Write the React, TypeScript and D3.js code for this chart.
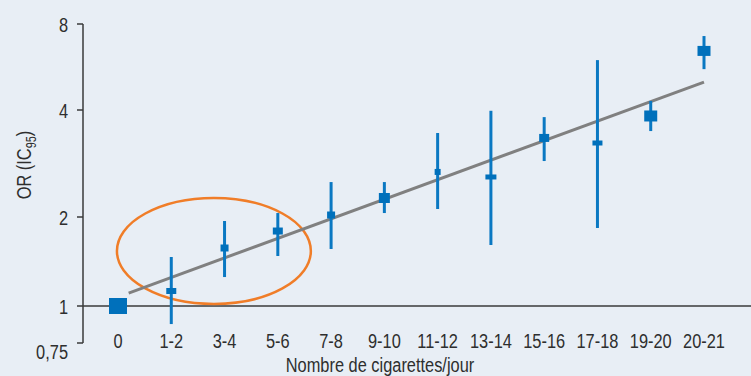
import React, { useEffect, useRef } from 'react';
import * as d3 from 'd3';

// categories (cigarettes per day)
const categories = ['0', '1-2', '3-4', '5-6', '7-8', '9-10', '11-12', '13-14', '15-16', '17-18', '19-20', '20-21'];
// odds ratio and 95% CI
const orValues = [1, 1.124, 1.571, 1.793, 2.026, 2.262, 2.678, 2.592, 3.338, 3.23, 3.848, 6.44];
const ciLow = [null, 0.869, 1.253, 1.476, 1.559, 2.052, 2.106, 1.608, 2.874, 1.836, 3.49, 5.56];
const ciHigh = [null, 1.465, 1.939, 2.052, 2.508, 2.508, 3.446, 3.98, 3.82, 5.98, 4.3, 7.26];
// marker box sizes (px) reflect group weight
const markerW = [18, 10, 8, 10, 8, 11, 6, 11, 10, 10, 13, 13];
const markerH = [16, 6, 7, 7, 7, 10, 6, 5, 8, 5, 11, 10];
// trend line, x in category index units
const trendX = [0.2, 11];
const trendY = [1.106, 5.01];
// y ticks
const yTicks = [0.75, 1, 2, 4, 8];
const yTickLabels = ['0,75', '1', '2', '4', '8'];

const W = 751;
const H = 376;
const FONT = '"Liberation Sans", Arial, sans-serif';
const SQUEEZE = 0.78; // condensed look

const App = () => {
    const svgRef = useRef<SVGSVGElement>(null);

    useEffect(() => {
        const svg = d3.select(svgRef.current);
        svg.selectAll('*').remove();

        svg.append('rect').attr('width', W).attr('height', H).attr('fill', '#e8eef5');

        const addText = (x: number, y: number, str: string, anchor: string, rotate = 0) => {
            return svg.append('text')
                .attr('transform', `translate(${x},${y}) rotate(${rotate}) scale(${SQUEEZE},1)`)
                .attr('text-anchor', anchor)
                .attr('font-family', FONT)
                .attr('font-size', 21)
                .attr('fill', '#2e2e2e')
                .text(str);
        };

        // the original axis is not evenly spaced, so piecewise log
        const y = d3.scaleLog().domain([0.75, 1, 2, 4, 8]).range([343, 306, 217, 110, 24]);
        const x = d3.scalePoint().domain(categories).range([118, 704]);
        const xi = d3.scaleLinear().domain([0, categories.length - 1]).range([118, 704]);
        const axisX = 83;

        // y axis
        svg.append('line')
            .attr('x1', axisX).attr('x2', axisX)
            .attr('y1', y(8)).attr('y2', y(0.75))
            .attr('stroke', '#3a3a3a').attr('stroke-width', 1.5);

        yTicks.forEach((t, i) => {
            svg.append('line')
                .attr('x1', axisX - 6).attr('x2', axisX)
                .attr('y1', y(t)).attr('y2', y(t))
                .attr('stroke', '#3a3a3a').attr('stroke-width', 1.5);
            addText(68, y(t) + (t === 0.75 ? 8 : 0) + 7.5, yTickLabels[i], 'end');
        });

        // reference line at OR = 1
        svg.append('line')
            .attr('x1', axisX).attr('x2', W)
            .attr('y1', y(1)).attr('y2', y(1))
            .attr('stroke', '#3a3a3a').attr('stroke-width', 1.5);

        // x labels
        categories.forEach(c => {
            addText(x(c) as number, 348, c, 'middle');
        });

        addText(380, 372, 'Nombre de cigarettes/jour', 'middle');

        const yl = addText(31, 165, '', 'middle', -90);
        yl.append('tspan').text('OR (IC');
        yl.append('tspan').attr('font-size', 14).attr('dy', 5).text('95');
        yl.append('tspan').attr('dy', -5).text(')');

        // annotation ellipse
        svg.append('ellipse')
            .attr('cx', xi(1.8))
            .attr('cy', y(1.535))
            .attr('rx', xi(1.82) - xi(0))
            .attr('ry', (y(1.016) - y(2.262)) / 2)
            .attr('fill', 'none')
            .attr('stroke', '#f07d28')
            .attr('stroke-width', 2.5);

        // trend line
        const line = d3.line<number>().x((d, i) => xi(trendX[i])).y(d => y(d));
        svg.append('path')
            .attr('d', line(trendY))
            .attr('fill', 'none')
            .attr('stroke', '#808080')
            .attr('stroke-width', 3);

        // error bars
        categories.forEach((c, i) => {
            if (ciLow[i] == null) return;
            svg.append('line')
                .attr('x1', x(c)).attr('x2', x(c))
                .attr('y1', y(ciHigh[i] as number)).attr('y2', y(ciLow[i] as number))
                .attr('stroke', '#0a78c2').attr('stroke-width', 3);
        });

        // markers
        svg.selectAll('rect.mark')
            .data(orValues)
            .enter().append('rect')
            .attr('class', 'mark')
            .attr('x', (d, i) => (x(categories[i]) as number) - markerW[i] / 2)
            .attr('y', (d, i) => y(d) - markerH[i] / 2)
            .attr('width', (d, i) => markerW[i])
            .attr('height', (d, i) => markerH[i])
            .attr('fill', '#0070bb');
    }, []);

    return (
        <svg ref={svgRef} width={W} height={H}
            style={{ position: 'absolute', left: 0, top: 0, display: 'block' }} />
    );
};

export default App;
